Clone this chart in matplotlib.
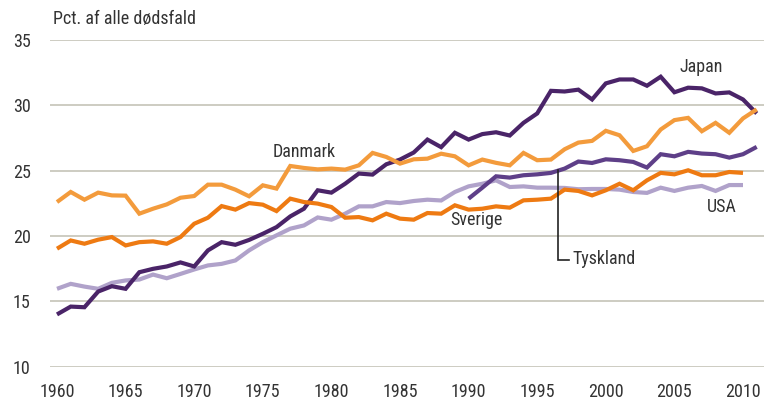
import matplotlib
matplotlib.use("Agg")
import matplotlib.pyplot as plt
from matplotlib import font_manager
import numpy as np

available = {f.name for f in font_manager.fontManager.ttflist}
prefs = [('Liberation Sans Narrow', 13.5), ('Arial Narrow', 13.5),
         ('DejaVu Sans Condensed', 11.5), ('Roboto Condensed', 13.0),
         ('Liberation Sans', 12.0)]
fam, fs = 'DejaVu Sans', 11.0
for name, size in prefs:
    if name in available:
        fam, fs = name, size
        break
plt.rcParams['font.family'] = [fam, 'DejaVu Sans']
if fam == 'DejaVu Sans':
    plt.rcParams['font.stretch'] = 'condensed'

years_full = list(range(1960, 2012))
years_swe_usa = list(range(1960, 2011))
years_ger = list(range(1990, 2012))

japan = [14.0, 14.6, 14.55, 15.75, 16.16, 15.96, 17.23, 17.49, 17.67, 17.98,
         17.67, 18.9, 19.53, 19.33, 19.7, 20.17, 20.68, 21.5, 22.09, 23.5,
         23.32, 24.0, 24.78, 24.7, 25.49, 25.85, 26.39, 27.38, 26.8, 27.9,
         27.38, 27.8, 27.94, 27.69, 28.66, 29.38, 31.11, 31.06, 31.2, 30.45,
         31.68, 31.98, 31.98, 31.5, 32.19, 31.0, 31.35, 31.3, 30.91, 30.99,
         30.45, 29.38]

danmark = [22.6, 23.37, 22.78, 23.32, 23.11, 23.09, 21.71, 22.09, 22.42, 22.93,
           23.06, 23.93, 23.93, 23.55, 23.04, 23.88, 23.63, 25.36, 25.21, 25.1,
           25.16, 25.08, 25.41, 26.36, 26.05, 25.54, 25.87, 25.92, 26.3, 26.1,
           25.41, 25.85, 25.6, 25.41, 26.36, 25.8, 25.85, 26.64, 27.15, 27.28,
           28.05, 27.71, 26.51, 26.87, 28.15, 28.87, 29.04, 28.02, 28.66, 27.9,
           29.0, 29.69]

sverige = [19.03, 19.66, 19.41, 19.72, 19.92, 19.28, 19.53, 19.59, 19.41, 19.92,
           20.94, 21.4, 22.29, 22.02, 22.52, 22.4, 21.91, 22.86, 22.6, 22.48,
           22.22, 21.4, 21.45, 21.2, 21.71, 21.33, 21.25, 21.76, 21.71, 22.35,
           22.02, 22.09, 22.27, 22.17, 22.73, 22.78, 22.86, 23.55, 23.45, 23.11,
           23.5, 24.0, 23.5, 24.26, 24.83, 24.72, 25.03, 24.65, 24.65, 24.9,
           24.83]

usa = [15.96, 16.34, 16.13, 15.96, 16.42, 16.6, 16.67, 17.05, 16.77, 17.1,
       17.44, 17.75, 17.87, 18.13, 18.9, 19.53, 20.05, 20.56, 20.81, 21.42,
       21.25, 21.71, 22.27, 22.27, 22.6, 22.52, 22.68, 22.78, 22.72, 23.37,
       23.8, 24.0, 24.26, 23.75, 23.8, 23.7, 23.7, 23.68, 23.58, 23.6,
       23.6, 23.55, 23.37, 23.3, 23.7, 23.45, 23.7, 23.83, 23.45, 23.9,
       23.9]

tyskland = [22.86, 23.7, 24.57, 24.47, 24.65, 24.72, 24.83, 25.16, 25.7, 25.59,
            25.87, 25.8, 25.67, 25.24, 26.26, 26.1, 26.44, 26.31, 26.26, 26.0,
            26.26, 26.82]

y_ticks = [10, 15, 20, 25, 30, 35]
x_ticks = [1960, 1965, 1970, 1975, 1980, 1985, 1990, 1995, 2000, 2005, 2010]

c_japan = '#4a2468'
c_tysk = '#5e3f88'
c_usa = '#b0a2ca'
c_dk = '#f39b3c'
c_swe = '#ee7a12'
c_text = '#333333'
c_grid = '#c9c8bd'

W, H = 764, 401
fig = plt.figure(figsize=(W / 100, H / 100), dpi=100)
ax = fig.add_axes([50 / W, (H - 366.7) / H, (W - 50) / W, (366.7 - 40) / H])

x0 = 1960 - 7 / 13.72
x1 = 1960 + (W - 57) / 13.72
ax.set_xlim(x0, x1)
ax.set_ylim(10, 35)

for yt in y_ticks:
    ax.axhline(yt, color=c_grid, lw=1.3, zorder=0)

lw = 3.0
kw = dict(lw=lw, solid_joinstyle='miter', solid_capstyle='butt', clip_on=False)
ax.plot(years_swe_usa, usa, color=c_usa, zorder=2, **kw)
ax.plot(years_full, japan, color=c_japan, zorder=3, **kw)
ax.plot(years_ger, tyskland, color=c_tysk, zorder=3, **kw)
ax.plot(years_swe_usa, sverige, color=c_swe, zorder=4, **kw)
ax.plot(years_full, danmark, color=c_dk, zorder=5, **kw)

for s in ax.spines.values():
    s.set_visible(False)
ax.set_yticks(y_ticks)
ax.set_yticklabels([str(v) for v in y_ticks])
ax.set_xticks(x_ticks)
ax.set_xticklabels([str(v) for v in x_ticks])
ax.tick_params(axis='both', length=0, labelsize=fs, labelcolor=c_text)
ax.tick_params(axis='y', pad=14)
ax.tick_params(axis='x', pad=12)

fig.text(53 / W, 1 - 19 / H, 'Pct. af alle dødsfald', fontsize=fs, color=c_text,
         ha='left', va='center')
ax.text(1975.75, 26.4, 'Danmark', fontsize=fs, color=c_text, ha='left', va='center')
ax.text(2005.4, 32.95, 'Japan', fontsize=fs, color=c_text, ha='left', va='center')
ax.text(1988.65, 21.2, 'Sverige', fontsize=fs, color=c_text, ha='left', va='center')
ax.text(2007.37, 22.25, 'USA', fontsize=fs, color=c_text, ha='left', va='center')
ax.text(1997.6, 18.25, 'Tyskland', fontsize=fs, color=c_text, ha='left', va='center')
ax.plot([1996.52, 1996.52, 1997.32], [25.03, 18.13, 18.13], color='#222222',
        lw=1.2, zorder=6, solid_joinstyle='miter')

fig.savefig('out.png', dpi=100)
